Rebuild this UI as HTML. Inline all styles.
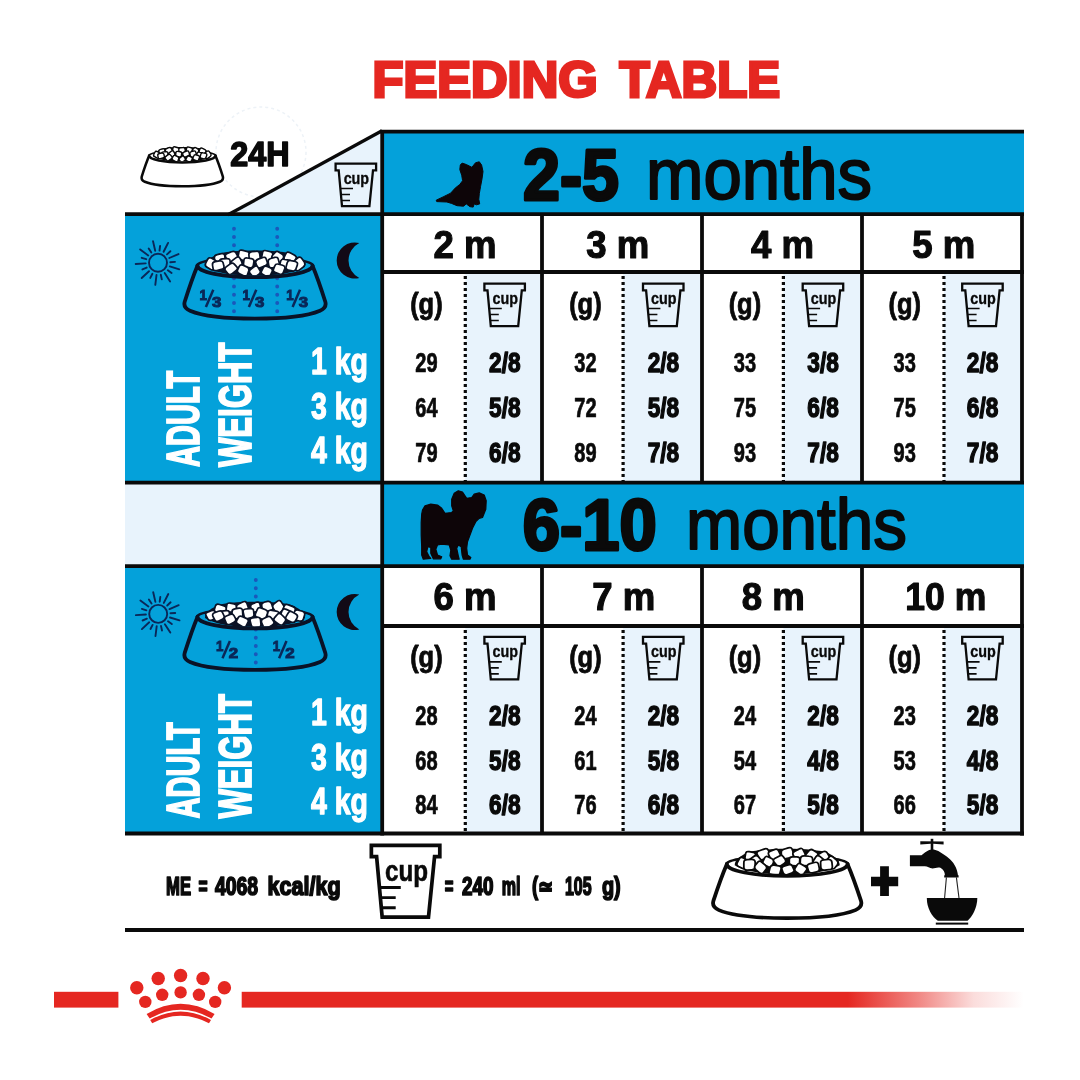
<!DOCTYPE html>
<html lang="en"><head><meta charset="utf-8"><title>Feeding table</title>
<style>
html,body{margin:0;padding:0;background:#fff;}
svg{display:block;font-family:'Liberation Sans', 'DejaVu Sans', sans-serif;}
</style></head><body>
<svg width="1080" height="1080" viewBox="0 0 1080 1080">
<rect x="382" y="131.7" width="642" height="83" fill="#04a1da"/>
<rect x="125" y="214" width="257" height="269" fill="#04a1da"/>
<rect x="125" y="483" width="257" height="84" fill="#e8f3fc"/>
<rect x="382" y="483" width="642" height="84" fill="#04a1da"/>
<rect x="125" y="566" width="257" height="267.5" fill="#04a1da"/>
<circle cx="261" cy="152" r="45" fill="none" stroke="#edf2f7" stroke-width="1.5" stroke-dasharray="3 3"/>
<polygon points="229,214 382,130.5 382,214" fill="#e8f3fc"/>
<rect x="465.3" y="272" width="76.69999999999999" height="211" fill="#e8f3fc"/>
<rect x="465.3" y="626" width="76.69999999999999" height="207" fill="#e8f3fc"/>
<rect x="623.1" y="272" width="78.89999999999998" height="211" fill="#e8f3fc"/>
<rect x="623.1" y="626" width="78.89999999999998" height="207" fill="#e8f3fc"/>
<rect x="783.4" y="272" width="78.60000000000002" height="211" fill="#e8f3fc"/>
<rect x="783.4" y="626" width="78.60000000000002" height="207" fill="#e8f3fc"/>
<rect x="944.0" y="272" width="78.0" height="211" fill="#e8f3fc"/>
<rect x="944.0" y="626" width="78.0" height="207" fill="#e8f3fc"/>
<line x1="380.3" y1="131.7" x2="1024" y2="131.7" stroke="#0a0a0a" stroke-width="3.8" />
<line x1="125" y1="214.2" x2="1024" y2="214.2" stroke="#0a0a0a" stroke-width="3.8" />
<line x1="382" y1="272" x2="1024" y2="272" stroke="#0a0a0a" stroke-width="3.8" />
<line x1="125" y1="482.7" x2="1024" y2="482.7" stroke="#0a0a0a" stroke-width="3.8" />
<line x1="125" y1="566.2" x2="1024" y2="566.2" stroke="#0a0a0a" stroke-width="3.8" />
<line x1="382" y1="626" x2="1024" y2="626" stroke="#0a0a0a" stroke-width="3.8" />
<line x1="125" y1="833.5" x2="1024" y2="833.5" stroke="#0a0a0a" stroke-width="3.8" />
<line x1="125" y1="930" x2="1024" y2="930" stroke="#0a0a0a" stroke-width="3.8" />
<line x1="228" y1="214.8" x2="382" y2="130.7" stroke="#0a0a0a" stroke-width="3.3" />
<line x1="382.2" y1="130" x2="382.2" y2="835.4" stroke="#0a0a0a" stroke-width="3.8" />
<line x1="1022" y1="214" x2="1022" y2="482.7" stroke="#0a0a0a" stroke-width="3.8" />
<line x1="1022" y1="566" x2="1022" y2="835.4" stroke="#0a0a0a" stroke-width="3.8" />
<line x1="542" y1="214" x2="542" y2="482.7" stroke="#0a0a0a" stroke-width="3.8" />
<line x1="542" y1="566" x2="542" y2="833.5" stroke="#0a0a0a" stroke-width="3.8" />
<line x1="702" y1="214" x2="702" y2="482.7" stroke="#0a0a0a" stroke-width="3.8" />
<line x1="702" y1="566" x2="702" y2="833.5" stroke="#0a0a0a" stroke-width="3.8" />
<line x1="862" y1="214" x2="862" y2="482.7" stroke="#0a0a0a" stroke-width="3.8" />
<line x1="862" y1="566" x2="862" y2="833.5" stroke="#0a0a0a" stroke-width="3.8" />
<line x1="465.3" y1="275.9" x2="465.3" y2="481" stroke="#0a0a0a" stroke-width="3.2" stroke-dasharray="3 3"/>
<line x1="465.3" y1="629.9" x2="465.3" y2="832" stroke="#0a0a0a" stroke-width="3.2" stroke-dasharray="3 3"/>
<line x1="623.1" y1="275.9" x2="623.1" y2="481" stroke="#0a0a0a" stroke-width="3.2" stroke-dasharray="3 3"/>
<line x1="623.1" y1="629.9" x2="623.1" y2="832" stroke="#0a0a0a" stroke-width="3.2" stroke-dasharray="3 3"/>
<line x1="783.4" y1="275.9" x2="783.4" y2="481" stroke="#0a0a0a" stroke-width="3.2" stroke-dasharray="3 3"/>
<line x1="783.4" y1="629.9" x2="783.4" y2="832" stroke="#0a0a0a" stroke-width="3.2" stroke-dasharray="3 3"/>
<line x1="944.0" y1="275.9" x2="944.0" y2="481" stroke="#0a0a0a" stroke-width="3.2" stroke-dasharray="3 3"/>
<line x1="944.0" y1="629.9" x2="944.0" y2="832" stroke="#0a0a0a" stroke-width="3.2" stroke-dasharray="3 3"/>
<text x="372.6" y="96.6" font-size="49.5" font-weight="bold" fill="#e52721" text-anchor="start" textLength="225" lengthAdjust="spacingAndGlyphs" stroke="#e52721" stroke-width="3.0" stroke-linejoin="miter" stroke-miterlimit="2.5">FEEDING</text>
<text x="619.6" y="96.6" font-size="49.5" font-weight="bold" fill="#e52721" text-anchor="start" textLength="160.5" lengthAdjust="spacingAndGlyphs" stroke="#e52721" stroke-width="3.0" stroke-linejoin="miter" stroke-miterlimit="2.5">TABLE</text>
<text x="523" y="199.5" font-size="72.5" font-weight="bold" fill="#0a0a0a" text-anchor="start" textLength="96" lengthAdjust="spacingAndGlyphs" stroke="#0a0a0a" stroke-width="3.2" stroke-linejoin="round" >2-5</text>
<text x="646" y="199.3" font-size="72" font-weight="normal" fill="#0a0a0a" text-anchor="start" textLength="226" lengthAdjust="spacingAndGlyphs" stroke="#0a0a0a" stroke-width="2.0" stroke-linejoin="round" >months</text>
<text x="522.8" y="549.5" font-size="72.5" font-weight="bold" fill="#0a0a0a" text-anchor="start" textLength="134" lengthAdjust="spacingAndGlyphs" stroke="#0a0a0a" stroke-width="3.2" stroke-linejoin="round" >6-10</text>
<text x="686" y="549.3" font-size="72" font-weight="normal" fill="#0a0a0a" text-anchor="start" textLength="221" lengthAdjust="spacingAndGlyphs" stroke="#0a0a0a" stroke-width="2.0" stroke-linejoin="round" >months</text>
<text x="465" y="258" font-size="39.5" font-weight="bold" fill="#0a0a0a" text-anchor="middle" textLength="63" lengthAdjust="spacingAndGlyphs" stroke="#0a0a0a" stroke-width="1.2" stroke-linejoin="round" >2 m</text>
<text x="464.9" y="610" font-size="39.5" font-weight="bold" fill="#0a0a0a" text-anchor="middle" textLength="63" lengthAdjust="spacingAndGlyphs" stroke="#0a0a0a" stroke-width="1.2" stroke-linejoin="round" >6 m</text>
<text x="617.7" y="258" font-size="39.5" font-weight="bold" fill="#0a0a0a" text-anchor="middle" textLength="63" lengthAdjust="spacingAndGlyphs" stroke="#0a0a0a" stroke-width="1.2" stroke-linejoin="round" >3 m</text>
<text x="623.7" y="610" font-size="39.5" font-weight="bold" fill="#0a0a0a" text-anchor="middle" textLength="63" lengthAdjust="spacingAndGlyphs" stroke="#0a0a0a" stroke-width="1.2" stroke-linejoin="round" >7 m</text>
<text x="782.5" y="258" font-size="39.5" font-weight="bold" fill="#0a0a0a" text-anchor="middle" textLength="63" lengthAdjust="spacingAndGlyphs" stroke="#0a0a0a" stroke-width="1.2" stroke-linejoin="round" >4 m</text>
<text x="773.3" y="610" font-size="39.5" font-weight="bold" fill="#0a0a0a" text-anchor="middle" textLength="63" lengthAdjust="spacingAndGlyphs" stroke="#0a0a0a" stroke-width="1.2" stroke-linejoin="round" >8 m</text>
<text x="943.8" y="258" font-size="39.5" font-weight="bold" fill="#0a0a0a" text-anchor="middle" textLength="63" lengthAdjust="spacingAndGlyphs" stroke="#0a0a0a" stroke-width="1.2" stroke-linejoin="round" >5 m</text>
<text x="945.8" y="610" font-size="39.5" font-weight="bold" fill="#0a0a0a" text-anchor="middle" textLength="81" lengthAdjust="spacingAndGlyphs" stroke="#0a0a0a" stroke-width="1.2" stroke-linejoin="round" >10 m</text>
<text x="426.4" y="372.2" font-size="27.3" font-weight="bold" fill="#0a0a0a" text-anchor="middle" textLength="22.3" lengthAdjust="spacingAndGlyphs" stroke="#0a0a0a" stroke-width="0.7" stroke-linejoin="round" >29</text>
<text x="504.8" y="372.2" font-size="27.6" font-weight="bold" fill="#0a0a0a" text-anchor="middle" textLength="31.5" lengthAdjust="spacingAndGlyphs" stroke="#0a0a0a" stroke-width="1.4" stroke-linejoin="round" >2/8</text>
<text x="585.4" y="372.2" font-size="27.3" font-weight="bold" fill="#0a0a0a" text-anchor="middle" textLength="22.3" lengthAdjust="spacingAndGlyphs" stroke="#0a0a0a" stroke-width="0.7" stroke-linejoin="round" >32</text>
<text x="663.4" y="372.2" font-size="27.6" font-weight="bold" fill="#0a0a0a" text-anchor="middle" textLength="31.5" lengthAdjust="spacingAndGlyphs" stroke="#0a0a0a" stroke-width="1.4" stroke-linejoin="round" >2/8</text>
<text x="744.9" y="372.2" font-size="27.3" font-weight="bold" fill="#0a0a0a" text-anchor="middle" textLength="22.3" lengthAdjust="spacingAndGlyphs" stroke="#0a0a0a" stroke-width="0.7" stroke-linejoin="round" >33</text>
<text x="823.1" y="372.2" font-size="27.6" font-weight="bold" fill="#0a0a0a" text-anchor="middle" textLength="31.5" lengthAdjust="spacingAndGlyphs" stroke="#0a0a0a" stroke-width="1.4" stroke-linejoin="round" >3/8</text>
<text x="904.7" y="372.2" font-size="27.3" font-weight="bold" fill="#0a0a0a" text-anchor="middle" textLength="22.3" lengthAdjust="spacingAndGlyphs" stroke="#0a0a0a" stroke-width="0.7" stroke-linejoin="round" >33</text>
<text x="982.6" y="372.2" font-size="27.6" font-weight="bold" fill="#0a0a0a" text-anchor="middle" textLength="31.5" lengthAdjust="spacingAndGlyphs" stroke="#0a0a0a" stroke-width="1.4" stroke-linejoin="round" >2/8</text>
<text x="426.4" y="416.9" font-size="27.3" font-weight="bold" fill="#0a0a0a" text-anchor="middle" textLength="22.3" lengthAdjust="spacingAndGlyphs" stroke="#0a0a0a" stroke-width="0.7" stroke-linejoin="round" >64</text>
<text x="504.8" y="416.9" font-size="27.6" font-weight="bold" fill="#0a0a0a" text-anchor="middle" textLength="31.5" lengthAdjust="spacingAndGlyphs" stroke="#0a0a0a" stroke-width="1.4" stroke-linejoin="round" >5/8</text>
<text x="585.4" y="416.9" font-size="27.3" font-weight="bold" fill="#0a0a0a" text-anchor="middle" textLength="22.3" lengthAdjust="spacingAndGlyphs" stroke="#0a0a0a" stroke-width="0.7" stroke-linejoin="round" >72</text>
<text x="663.4" y="416.9" font-size="27.6" font-weight="bold" fill="#0a0a0a" text-anchor="middle" textLength="31.5" lengthAdjust="spacingAndGlyphs" stroke="#0a0a0a" stroke-width="1.4" stroke-linejoin="round" >5/8</text>
<text x="744.9" y="416.9" font-size="27.3" font-weight="bold" fill="#0a0a0a" text-anchor="middle" textLength="22.3" lengthAdjust="spacingAndGlyphs" stroke="#0a0a0a" stroke-width="0.7" stroke-linejoin="round" >75</text>
<text x="823.1" y="416.9" font-size="27.6" font-weight="bold" fill="#0a0a0a" text-anchor="middle" textLength="31.5" lengthAdjust="spacingAndGlyphs" stroke="#0a0a0a" stroke-width="1.4" stroke-linejoin="round" >6/8</text>
<text x="904.7" y="416.9" font-size="27.3" font-weight="bold" fill="#0a0a0a" text-anchor="middle" textLength="22.3" lengthAdjust="spacingAndGlyphs" stroke="#0a0a0a" stroke-width="0.7" stroke-linejoin="round" >75</text>
<text x="982.6" y="416.9" font-size="27.6" font-weight="bold" fill="#0a0a0a" text-anchor="middle" textLength="31.5" lengthAdjust="spacingAndGlyphs" stroke="#0a0a0a" stroke-width="1.4" stroke-linejoin="round" >6/8</text>
<text x="426.4" y="461.6" font-size="27.3" font-weight="bold" fill="#0a0a0a" text-anchor="middle" textLength="22.3" lengthAdjust="spacingAndGlyphs" stroke="#0a0a0a" stroke-width="0.7" stroke-linejoin="round" >79</text>
<text x="504.8" y="461.6" font-size="27.6" font-weight="bold" fill="#0a0a0a" text-anchor="middle" textLength="31.5" lengthAdjust="spacingAndGlyphs" stroke="#0a0a0a" stroke-width="1.4" stroke-linejoin="round" >6/8</text>
<text x="585.4" y="461.6" font-size="27.3" font-weight="bold" fill="#0a0a0a" text-anchor="middle" textLength="22.3" lengthAdjust="spacingAndGlyphs" stroke="#0a0a0a" stroke-width="0.7" stroke-linejoin="round" >89</text>
<text x="663.4" y="461.6" font-size="27.6" font-weight="bold" fill="#0a0a0a" text-anchor="middle" textLength="31.5" lengthAdjust="spacingAndGlyphs" stroke="#0a0a0a" stroke-width="1.4" stroke-linejoin="round" >7/8</text>
<text x="744.9" y="461.6" font-size="27.3" font-weight="bold" fill="#0a0a0a" text-anchor="middle" textLength="22.3" lengthAdjust="spacingAndGlyphs" stroke="#0a0a0a" stroke-width="0.7" stroke-linejoin="round" >93</text>
<text x="823.1" y="461.6" font-size="27.6" font-weight="bold" fill="#0a0a0a" text-anchor="middle" textLength="31.5" lengthAdjust="spacingAndGlyphs" stroke="#0a0a0a" stroke-width="1.4" stroke-linejoin="round" >7/8</text>
<text x="904.7" y="461.6" font-size="27.3" font-weight="bold" fill="#0a0a0a" text-anchor="middle" textLength="22.3" lengthAdjust="spacingAndGlyphs" stroke="#0a0a0a" stroke-width="0.7" stroke-linejoin="round" >93</text>
<text x="982.6" y="461.6" font-size="27.6" font-weight="bold" fill="#0a0a0a" text-anchor="middle" textLength="31.5" lengthAdjust="spacingAndGlyphs" stroke="#0a0a0a" stroke-width="1.4" stroke-linejoin="round" >7/8</text>
<text x="426.4" y="724.8" font-size="27.3" font-weight="bold" fill="#0a0a0a" text-anchor="middle" textLength="22.3" lengthAdjust="spacingAndGlyphs" stroke="#0a0a0a" stroke-width="0.7" stroke-linejoin="round" >28</text>
<text x="504.8" y="724.8" font-size="27.6" font-weight="bold" fill="#0a0a0a" text-anchor="middle" textLength="31.5" lengthAdjust="spacingAndGlyphs" stroke="#0a0a0a" stroke-width="1.4" stroke-linejoin="round" >2/8</text>
<text x="585.4" y="724.8" font-size="27.3" font-weight="bold" fill="#0a0a0a" text-anchor="middle" textLength="22.3" lengthAdjust="spacingAndGlyphs" stroke="#0a0a0a" stroke-width="0.7" stroke-linejoin="round" >24</text>
<text x="663.4" y="724.8" font-size="27.6" font-weight="bold" fill="#0a0a0a" text-anchor="middle" textLength="31.5" lengthAdjust="spacingAndGlyphs" stroke="#0a0a0a" stroke-width="1.4" stroke-linejoin="round" >2/8</text>
<text x="744.9" y="724.8" font-size="27.3" font-weight="bold" fill="#0a0a0a" text-anchor="middle" textLength="22.3" lengthAdjust="spacingAndGlyphs" stroke="#0a0a0a" stroke-width="0.7" stroke-linejoin="round" >24</text>
<text x="823.1" y="724.8" font-size="27.6" font-weight="bold" fill="#0a0a0a" text-anchor="middle" textLength="31.5" lengthAdjust="spacingAndGlyphs" stroke="#0a0a0a" stroke-width="1.4" stroke-linejoin="round" >2/8</text>
<text x="904.7" y="724.8" font-size="27.3" font-weight="bold" fill="#0a0a0a" text-anchor="middle" textLength="22.3" lengthAdjust="spacingAndGlyphs" stroke="#0a0a0a" stroke-width="0.7" stroke-linejoin="round" >23</text>
<text x="982.6" y="724.8" font-size="27.6" font-weight="bold" fill="#0a0a0a" text-anchor="middle" textLength="31.5" lengthAdjust="spacingAndGlyphs" stroke="#0a0a0a" stroke-width="1.4" stroke-linejoin="round" >2/8</text>
<text x="426.4" y="769.5" font-size="27.3" font-weight="bold" fill="#0a0a0a" text-anchor="middle" textLength="22.3" lengthAdjust="spacingAndGlyphs" stroke="#0a0a0a" stroke-width="0.7" stroke-linejoin="round" >68</text>
<text x="504.8" y="769.5" font-size="27.6" font-weight="bold" fill="#0a0a0a" text-anchor="middle" textLength="31.5" lengthAdjust="spacingAndGlyphs" stroke="#0a0a0a" stroke-width="1.4" stroke-linejoin="round" >5/8</text>
<text x="585.4" y="769.5" font-size="27.3" font-weight="bold" fill="#0a0a0a" text-anchor="middle" textLength="22.3" lengthAdjust="spacingAndGlyphs" stroke="#0a0a0a" stroke-width="0.7" stroke-linejoin="round" >61</text>
<text x="663.4" y="769.5" font-size="27.6" font-weight="bold" fill="#0a0a0a" text-anchor="middle" textLength="31.5" lengthAdjust="spacingAndGlyphs" stroke="#0a0a0a" stroke-width="1.4" stroke-linejoin="round" >5/8</text>
<text x="744.9" y="769.5" font-size="27.3" font-weight="bold" fill="#0a0a0a" text-anchor="middle" textLength="22.3" lengthAdjust="spacingAndGlyphs" stroke="#0a0a0a" stroke-width="0.7" stroke-linejoin="round" >54</text>
<text x="823.1" y="769.5" font-size="27.6" font-weight="bold" fill="#0a0a0a" text-anchor="middle" textLength="31.5" lengthAdjust="spacingAndGlyphs" stroke="#0a0a0a" stroke-width="1.4" stroke-linejoin="round" >4/8</text>
<text x="904.7" y="769.5" font-size="27.3" font-weight="bold" fill="#0a0a0a" text-anchor="middle" textLength="22.3" lengthAdjust="spacingAndGlyphs" stroke="#0a0a0a" stroke-width="0.7" stroke-linejoin="round" >53</text>
<text x="982.6" y="769.5" font-size="27.6" font-weight="bold" fill="#0a0a0a" text-anchor="middle" textLength="31.5" lengthAdjust="spacingAndGlyphs" stroke="#0a0a0a" stroke-width="1.4" stroke-linejoin="round" >4/8</text>
<text x="426.4" y="814.2" font-size="27.3" font-weight="bold" fill="#0a0a0a" text-anchor="middle" textLength="22.3" lengthAdjust="spacingAndGlyphs" stroke="#0a0a0a" stroke-width="0.7" stroke-linejoin="round" >84</text>
<text x="504.8" y="814.2" font-size="27.6" font-weight="bold" fill="#0a0a0a" text-anchor="middle" textLength="31.5" lengthAdjust="spacingAndGlyphs" stroke="#0a0a0a" stroke-width="1.4" stroke-linejoin="round" >6/8</text>
<text x="585.4" y="814.2" font-size="27.3" font-weight="bold" fill="#0a0a0a" text-anchor="middle" textLength="22.3" lengthAdjust="spacingAndGlyphs" stroke="#0a0a0a" stroke-width="0.7" stroke-linejoin="round" >76</text>
<text x="663.4" y="814.2" font-size="27.6" font-weight="bold" fill="#0a0a0a" text-anchor="middle" textLength="31.5" lengthAdjust="spacingAndGlyphs" stroke="#0a0a0a" stroke-width="1.4" stroke-linejoin="round" >6/8</text>
<text x="744.9" y="814.2" font-size="27.3" font-weight="bold" fill="#0a0a0a" text-anchor="middle" textLength="22.3" lengthAdjust="spacingAndGlyphs" stroke="#0a0a0a" stroke-width="0.7" stroke-linejoin="round" >67</text>
<text x="823.1" y="814.2" font-size="27.6" font-weight="bold" fill="#0a0a0a" text-anchor="middle" textLength="31.5" lengthAdjust="spacingAndGlyphs" stroke="#0a0a0a" stroke-width="1.4" stroke-linejoin="round" >5/8</text>
<text x="904.7" y="814.2" font-size="27.3" font-weight="bold" fill="#0a0a0a" text-anchor="middle" textLength="22.3" lengthAdjust="spacingAndGlyphs" stroke="#0a0a0a" stroke-width="0.7" stroke-linejoin="round" >66</text>
<text x="982.6" y="814.2" font-size="27.6" font-weight="bold" fill="#0a0a0a" text-anchor="middle" textLength="31.5" lengthAdjust="spacingAndGlyphs" stroke="#0a0a0a" stroke-width="1.4" stroke-linejoin="round" >5/8</text>
<text x="426.4" y="314.2" font-size="29" font-weight="bold" fill="#0a0a0a" text-anchor="middle" textLength="32.5" lengthAdjust="spacingAndGlyphs" stroke="#0a0a0a" stroke-width="0.8" stroke-linejoin="round" >(g)</text>
<text x="585.4" y="314.2" font-size="29" font-weight="bold" fill="#0a0a0a" text-anchor="middle" textLength="32.5" lengthAdjust="spacingAndGlyphs" stroke="#0a0a0a" stroke-width="0.8" stroke-linejoin="round" >(g)</text>
<text x="744.9" y="314.2" font-size="29" font-weight="bold" fill="#0a0a0a" text-anchor="middle" textLength="32.5" lengthAdjust="spacingAndGlyphs" stroke="#0a0a0a" stroke-width="0.8" stroke-linejoin="round" >(g)</text>
<text x="904.7" y="314.2" font-size="29" font-weight="bold" fill="#0a0a0a" text-anchor="middle" textLength="32.5" lengthAdjust="spacingAndGlyphs" stroke="#0a0a0a" stroke-width="0.8" stroke-linejoin="round" >(g)</text>
<text x="426.4" y="667.3" font-size="29" font-weight="bold" fill="#0a0a0a" text-anchor="middle" textLength="32.5" lengthAdjust="spacingAndGlyphs" stroke="#0a0a0a" stroke-width="0.8" stroke-linejoin="round" >(g)</text>
<text x="585.4" y="667.3" font-size="29" font-weight="bold" fill="#0a0a0a" text-anchor="middle" textLength="32.5" lengthAdjust="spacingAndGlyphs" stroke="#0a0a0a" stroke-width="0.8" stroke-linejoin="round" >(g)</text>
<text x="744.9" y="667.3" font-size="29" font-weight="bold" fill="#0a0a0a" text-anchor="middle" textLength="32.5" lengthAdjust="spacingAndGlyphs" stroke="#0a0a0a" stroke-width="0.8" stroke-linejoin="round" >(g)</text>
<text x="904.7" y="667.3" font-size="29" font-weight="bold" fill="#0a0a0a" text-anchor="middle" textLength="32.5" lengthAdjust="spacingAndGlyphs" stroke="#0a0a0a" stroke-width="0.8" stroke-linejoin="round" >(g)</text>
<text x="368" y="374.0" font-size="37" font-weight="bold" fill="#fff" text-anchor="end" textLength="57" lengthAdjust="spacingAndGlyphs" stroke="#fff" stroke-width="1.3" stroke-linejoin="round" >1 kg</text>
<text x="368" y="418.5" font-size="37" font-weight="bold" fill="#fff" text-anchor="end" textLength="57" lengthAdjust="spacingAndGlyphs" stroke="#fff" stroke-width="1.3" stroke-linejoin="round" >3 kg</text>
<text x="368" y="463.0" font-size="37" font-weight="bold" fill="#fff" text-anchor="end" textLength="57" lengthAdjust="spacingAndGlyphs" stroke="#fff" stroke-width="1.3" stroke-linejoin="round" >4 kg</text>
<text x="368" y="724.5" font-size="37" font-weight="bold" fill="#fff" text-anchor="end" textLength="57" lengthAdjust="spacingAndGlyphs" stroke="#fff" stroke-width="1.3" stroke-linejoin="round" >1 kg</text>
<text x="368" y="769.5" font-size="37" font-weight="bold" fill="#fff" text-anchor="end" textLength="57" lengthAdjust="spacingAndGlyphs" stroke="#fff" stroke-width="1.3" stroke-linejoin="round" >3 kg</text>
<text x="368" y="814.0" font-size="37" font-weight="bold" fill="#fff" text-anchor="end" textLength="57" lengthAdjust="spacingAndGlyphs" stroke="#fff" stroke-width="1.3" stroke-linejoin="round" >4 kg</text>
<text transform="translate(198.6,467.1) rotate(-90)" font-size="45.5" font-weight="bold" fill="#fff" stroke="#fff" stroke-width="1.8" textLength="96.5" lengthAdjust="spacingAndGlyphs">ADULT</text>
<text transform="translate(250.5,467.1) rotate(-90)" font-size="45.5" font-weight="bold" fill="#fff" stroke="#fff" stroke-width="1.8" textLength="124.5" lengthAdjust="spacingAndGlyphs">WEIGHT</text>
<text transform="translate(198.6,818.6) rotate(-90)" font-size="45.5" font-weight="bold" fill="#fff" stroke="#fff" stroke-width="1.8" textLength="96.5" lengthAdjust="spacingAndGlyphs">ADULT</text>
<text transform="translate(250.5,818.6) rotate(-90)" font-size="45.5" font-weight="bold" fill="#fff" stroke="#fff" stroke-width="1.8" textLength="124.5" lengthAdjust="spacingAndGlyphs">WEIGHT</text>
<g transform="translate(182.3,155.8) scale(0.577,0.577)"><clipPath id="bk1"><path d="M-70,-40 H70 V0 H56 A56,9.8 0 0 1 -56,0 H-70Z"/></clipPath><path d="M-57.5,0 Q-63,13 -70.3,36 Q-72,42 -65,45 C-40,55.5 40,55.5 65,45 Q72,42 70.3,36 Q63,13 57.5,0Z" fill="#fff" stroke="#0a0a0a" stroke-width="4.4" stroke-linejoin="round"/><path d="M-57.5,0 A57.5,7.5 0 0 1 57.5,0" fill="none" stroke="#0a0a0a" stroke-width="4.4"/><ellipse cx="0" cy="0" rx="56" ry="7" fill="#fff" stroke="none"/><g clip-path="url(#bk1)"><path d="M-50,1 C-50,-4 -46,-7 -39,-11 C-26,-16.5 26,-16.5 39,-11 C46,-7 50,-4 50,1 C30,13.5 -30,13.5 -50,1Z" fill="#0a0a0a"/><path d="M-40.6,-7.7 Q-40.9,-10.5 -37.8,-11.1 L-33.6,-12.0 Q-30.5,-12.7 -30.2,-9.7 L-29.8,-5.8 Q-29.5,-2.8 -32.6,-2.3 L-36.7,-1.6 Q-39.8,-1.1 -40.1,-3.9 Z" fill="#fff" stroke="#0a0a0a" stroke-width="2.4" stroke-linejoin="round"/><path d="M-29.2,-8.4 Q-30.7,-10.9 -27.6,-12.2 L-23.5,-14.0 Q-20.4,-15.3 -19.1,-12.8 L-17.3,-9.5 Q-15.9,-7.0 -18.9,-5.6 L-22.9,-3.8 Q-25.9,-2.5 -27.3,-5.0 Z" fill="#fff" stroke="#0a0a0a" stroke-width="2.4" stroke-linejoin="round"/><path d="M-16.1,-13.7 Q-15.6,-16.4 -12.1,-15.3 L-7.4,-13.9 Q-3.9,-12.8 -4.7,-9.9 L-5.9,-6.0 Q-6.8,-3.1 -9.9,-4.4 L-14.1,-6.1 Q-17.2,-7.3 -16.7,-10.1 Z" fill="#fff" stroke="#0a0a0a" stroke-width="2.4" stroke-linejoin="round"/><path d="M-6.1,-10.8 Q-6.3,-13.6 -3.1,-14.0 L1.2,-14.4 Q4.3,-14.8 4.7,-11.9 L5.2,-8.0 Q5.5,-5.1 2.2,-4.8 L-2.3,-4.4 Q-5.6,-4.1 -5.8,-6.9 Z" fill="#fff" stroke="#0a0a0a" stroke-width="2.4" stroke-linejoin="round"/><path d="M7.5,-12.9 Q8.0,-15.9 11.2,-15.0 L15.4,-13.9 Q18.5,-13.1 17.6,-10.0 L16.4,-6.0 Q15.5,-2.9 12.7,-3.8 L8.9,-5.0 Q6.1,-5.9 6.7,-8.9 Z" fill="#fff" stroke="#0a0a0a" stroke-width="2.4" stroke-linejoin="round"/><path d="M19.9,-13.1 Q21.7,-15.2 24.1,-13.5 L27.3,-11.3 Q29.6,-9.6 28.0,-7.2 L25.8,-4.1 Q24.1,-1.7 21.6,-3.7 L18.3,-6.4 Q15.9,-8.4 17.6,-10.5 Z" fill="#fff" stroke="#0a0a0a" stroke-width="2.4" stroke-linejoin="round"/><path d="M30.9,-12.1 Q32.1,-14.6 35.1,-13.0 L39.2,-10.8 Q42.2,-9.1 40.8,-6.7 L38.9,-3.6 Q37.5,-1.2 34.7,-2.7 L30.9,-4.7 Q28.1,-6.1 29.3,-8.7 Z" fill="#fff" stroke="#0a0a0a" stroke-width="2.4" stroke-linejoin="round"/><path d="M-47.5,-6.2 Q-46.1,-8.9 -43.3,-7.4 L-39.5,-5.3 Q-36.6,-3.7 -38.0,-1.1 L-40.0,2.5 Q-41.4,5.2 -44.2,3.7 L-47.9,1.6 Q-50.7,0.0 -49.3,-2.6 Z" fill="#fff" stroke="#0a0a0a" stroke-width="2.4" stroke-linejoin="round"/><path d="M-35.5,-4.0 Q-35.7,-6.7 -32.5,-6.9 L-28.2,-7.1 Q-25.0,-7.3 -24.9,-4.5 L-24.8,-0.9 Q-24.8,1.8 -27.9,2.0 L-32.1,2.2 Q-35.2,2.4 -35.4,-0.3 Z" fill="#fff" stroke="#0a0a0a" stroke-width="2.4" stroke-linejoin="round"/><path d="M-23.8,-0.5 Q-25.5,-2.9 -22.8,-5.0 L-19.2,-7.8 Q-16.5,-9.9 -15.1,-7.5 L-13.3,-4.2 Q-11.9,-1.8 -14.3,0.2 L-17.5,3.0 Q-19.9,5.0 -21.5,2.6 Z" fill="#fff" stroke="#0a0a0a" stroke-width="2.4" stroke-linejoin="round"/><path d="M-11.1,-5.4 Q-10.9,-8.1 -7.8,-7.7 L-3.8,-7.1 Q-0.7,-6.7 -1.1,-3.9 L-1.7,-0.2 Q-2.2,2.5 -5.0,2.1 L-8.8,1.5 Q-11.7,1.1 -11.5,-1.7 Z" fill="#fff" stroke="#0a0a0a" stroke-width="2.4" stroke-linejoin="round"/><path d="M0.8,-2.8 Q0.1,-5.4 3.2,-6.6 L7.3,-8.1 Q10.4,-9.2 11.2,-6.8 L12.3,-3.6 Q13.1,-1.2 10.0,0.1 L5.8,1.9 Q2.6,3.2 1.9,0.6 Z" fill="#fff" stroke="#0a0a0a" stroke-width="2.4" stroke-linejoin="round"/><path d="M13.2,-3.7 Q12.7,-6.4 15.7,-7.2 L19.7,-8.3 Q22.7,-9.1 23.4,-6.1 L24.4,-2.1 Q25.1,0.9 21.9,1.5 L17.5,2.2 Q14.3,2.7 13.8,-0.1 Z" fill="#fff" stroke="#0a0a0a" stroke-width="2.4" stroke-linejoin="round"/><path d="M25.6,-4.4 Q26.3,-7.0 29.5,-6.3 L33.8,-5.5 Q37.1,-4.8 36.4,-2.2 L35.4,1.2 Q34.7,3.8 31.5,3.1 L27.3,2.3 Q24.1,1.6 24.8,-1.0 Z" fill="#fff" stroke="#0a0a0a" stroke-width="2.4" stroke-linejoin="round"/><path d="M37.6,0.9 Q35.7,-1.4 38.5,-4.0 L42.2,-7.4 Q45.0,-9.9 46.8,-7.3 L49.3,-3.7 Q51.1,-1.0 48.4,1.1 L44.9,4.0 Q42.2,6.2 40.3,3.9 Z" fill="#fff" stroke="#0a0a0a" stroke-width="2.4" stroke-linejoin="round"/><path d="M-42.5,-0.6 Q-43.0,-3.3 -39.8,-4.0 L-35.6,-4.8 Q-32.5,-5.4 -31.9,-2.9 L-31.1,0.4 Q-30.4,2.9 -33.7,3.7 L-38.1,4.8 Q-41.4,5.6 -41.9,2.9 Z" fill="#fff" stroke="#0a0a0a" stroke-width="2.4" stroke-linejoin="round"/><path d="M-29.4,5.1 Q-31.1,3.0 -28.5,1.0 L-25.1,-1.6 Q-22.5,-3.6 -20.7,-1.6 L-18.2,1.1 Q-16.4,3.1 -19.1,5.1 L-22.8,7.9 Q-25.5,9.9 -27.2,7.8 Z" fill="#fff" stroke="#0a0a0a" stroke-width="2.4" stroke-linejoin="round"/><path d="M-15.9,0.9 Q-14.7,-1.5 -12.0,-0.4 L-8.2,1.2 Q-5.5,2.4 -6.3,5.2 L-7.5,8.9 Q-8.3,11.7 -11.4,10.1 L-15.4,8.1 Q-18.5,6.5 -17.4,4.1 Z" fill="#fff" stroke="#0a0a0a" stroke-width="2.4" stroke-linejoin="round"/><path d="M-5.0,7.5 Q-6.6,5.5 -4.2,3.6 L-1.0,1.1 Q1.5,-0.9 2.9,1.4 L4.8,4.5 Q6.3,6.7 4.0,8.4 L1.1,10.6 Q-1.1,12.2 -2.8,10.2 Z" fill="#fff" stroke="#0a0a0a" stroke-width="2.4" stroke-linejoin="round"/><path d="M8.3,1.9 Q9.6,-0.5 12.2,0.7 L15.6,2.4 Q18.2,3.7 17.0,6.2 L15.3,9.6 Q14.0,12.2 11.4,10.7 L8.0,8.9 Q5.4,7.5 6.7,5.1 Z" fill="#fff" stroke="#0a0a0a" stroke-width="2.4" stroke-linejoin="round"/><path d="M19.8,0.2 Q20.7,-2.3 23.7,-1.5 L27.6,-0.5 Q30.6,0.3 29.7,3.0 L28.4,6.6 Q27.5,9.3 24.5,8.3 L20.6,6.9 Q17.6,5.8 18.5,3.4 Z" fill="#fff" stroke="#0a0a0a" stroke-width="2.4" stroke-linejoin="round"/><path d="M32.2,-3.0 Q33.1,-5.9 36.1,-5.1 L40.2,-4.2 Q43.3,-3.4 42.3,-0.6 L41.0,3.1 Q40.0,5.9 37.1,5.2 L33.2,4.3 Q30.3,3.6 31.2,0.8 Z" fill="#fff" stroke="#0a0a0a" stroke-width="2.4" stroke-linejoin="round"/></g><path d="M-57.5,0 A57.5,11.5 0 0 0 57.5,0" fill="none" stroke="#0a0a0a" stroke-width="4.4" stroke-linecap="round"/></g>
<text x="230.3" y="166.1" font-size="34.4" font-weight="bold" fill="#0a0a0a" text-anchor="start" textLength="59.3" lengthAdjust="spacingAndGlyphs" stroke="#0a0a0a" stroke-width="1.6" stroke-linejoin="round" >24H</text>
<g transform="translate(334.5,162.5) scale(1.0)" fill="none" stroke="#0a0a0a" stroke-width="2.3" stroke-linejoin="miter"><path d="M1.1,1.1 H41.6 V7.8 H38.5 L34.9,43.6 H7.5 L4.2,7.8 H1.1 Z"/><path d="M6.5,26 H18.5 M7,32 H15.5 M7.5,38 H15.5" stroke-width="1.7"/><text x="21.9" y="21.2" font-size="17" font-weight="bold" fill="#0a0a0a" stroke="#0a0a0a" stroke-width="0.35" text-anchor="middle" textLength="25.5" lengthAdjust="spacingAndGlyphs">cup</text></g>
<g transform="translate(483.3,282.5) scale(1.0)" fill="none" stroke="#0a0a0a" stroke-width="2.3" stroke-linejoin="miter"><path d="M1.1,1.1 H41.6 V7.8 H38.5 L34.9,43.6 H7.5 L4.2,7.8 H1.1 Z"/><path d="M6.5,26 H18.5 M7,32 H15.5 M7.5,38 H15.5" stroke-width="1.7"/><text x="21.9" y="21.2" font-size="17" font-weight="bold" fill="#0a0a0a" stroke="#0a0a0a" stroke-width="0.35" text-anchor="middle" textLength="25.5" lengthAdjust="spacingAndGlyphs">cup</text></g>
<g transform="translate(483.3,635.8) scale(1.0)" fill="none" stroke="#0a0a0a" stroke-width="2.3" stroke-linejoin="miter"><path d="M1.1,1.1 H41.6 V7.8 H38.5 L34.9,43.6 H7.5 L4.2,7.8 H1.1 Z"/><path d="M6.5,26 H18.5 M7,32 H15.5 M7.5,38 H15.5" stroke-width="1.7"/><text x="21.9" y="21.2" font-size="17" font-weight="bold" fill="#0a0a0a" stroke="#0a0a0a" stroke-width="0.35" text-anchor="middle" textLength="25.5" lengthAdjust="spacingAndGlyphs">cup</text></g>
<g transform="translate(641.9,282.5) scale(1.0)" fill="none" stroke="#0a0a0a" stroke-width="2.3" stroke-linejoin="miter"><path d="M1.1,1.1 H41.6 V7.8 H38.5 L34.9,43.6 H7.5 L4.2,7.8 H1.1 Z"/><path d="M6.5,26 H18.5 M7,32 H15.5 M7.5,38 H15.5" stroke-width="1.7"/><text x="21.9" y="21.2" font-size="17" font-weight="bold" fill="#0a0a0a" stroke="#0a0a0a" stroke-width="0.35" text-anchor="middle" textLength="25.5" lengthAdjust="spacingAndGlyphs">cup</text></g>
<g transform="translate(641.9,635.8) scale(1.0)" fill="none" stroke="#0a0a0a" stroke-width="2.3" stroke-linejoin="miter"><path d="M1.1,1.1 H41.6 V7.8 H38.5 L34.9,43.6 H7.5 L4.2,7.8 H1.1 Z"/><path d="M6.5,26 H18.5 M7,32 H15.5 M7.5,38 H15.5" stroke-width="1.7"/><text x="21.9" y="21.2" font-size="17" font-weight="bold" fill="#0a0a0a" stroke="#0a0a0a" stroke-width="0.35" text-anchor="middle" textLength="25.5" lengthAdjust="spacingAndGlyphs">cup</text></g>
<g transform="translate(801.6,282.5) scale(1.0)" fill="none" stroke="#0a0a0a" stroke-width="2.3" stroke-linejoin="miter"><path d="M1.1,1.1 H41.6 V7.8 H38.5 L34.9,43.6 H7.5 L4.2,7.8 H1.1 Z"/><path d="M6.5,26 H18.5 M7,32 H15.5 M7.5,38 H15.5" stroke-width="1.7"/><text x="21.9" y="21.2" font-size="17" font-weight="bold" fill="#0a0a0a" stroke="#0a0a0a" stroke-width="0.35" text-anchor="middle" textLength="25.5" lengthAdjust="spacingAndGlyphs">cup</text></g>
<g transform="translate(801.6,635.8) scale(1.0)" fill="none" stroke="#0a0a0a" stroke-width="2.3" stroke-linejoin="miter"><path d="M1.1,1.1 H41.6 V7.8 H38.5 L34.9,43.6 H7.5 L4.2,7.8 H1.1 Z"/><path d="M6.5,26 H18.5 M7,32 H15.5 M7.5,38 H15.5" stroke-width="1.7"/><text x="21.9" y="21.2" font-size="17" font-weight="bold" fill="#0a0a0a" stroke="#0a0a0a" stroke-width="0.35" text-anchor="middle" textLength="25.5" lengthAdjust="spacingAndGlyphs">cup</text></g>
<g transform="translate(961.1,282.5) scale(1.0)" fill="none" stroke="#0a0a0a" stroke-width="2.3" stroke-linejoin="miter"><path d="M1.1,1.1 H41.6 V7.8 H38.5 L34.9,43.6 H7.5 L4.2,7.8 H1.1 Z"/><path d="M6.5,26 H18.5 M7,32 H15.5 M7.5,38 H15.5" stroke-width="1.7"/><text x="21.9" y="21.2" font-size="17" font-weight="bold" fill="#0a0a0a" stroke="#0a0a0a" stroke-width="0.35" text-anchor="middle" textLength="25.5" lengthAdjust="spacingAndGlyphs">cup</text></g>
<g transform="translate(961.1,635.8) scale(1.0)" fill="none" stroke="#0a0a0a" stroke-width="2.3" stroke-linejoin="miter"><path d="M1.1,1.1 H41.6 V7.8 H38.5 L34.9,43.6 H7.5 L4.2,7.8 H1.1 Z"/><path d="M6.5,26 H18.5 M7,32 H15.5 M7.5,38 H15.5" stroke-width="1.7"/><text x="21.9" y="21.2" font-size="17" font-weight="bold" fill="#0a0a0a" stroke="#0a0a0a" stroke-width="0.35" text-anchor="middle" textLength="25.5" lengthAdjust="spacingAndGlyphs">cup</text></g>
<g transform="translate(369.5,843.5) scale(1.69)" fill="none" stroke="#0a0a0a" stroke-width="2.2" stroke-linejoin="miter"><path d="M1.1,1.1 H41.6 V7.8 H38.5 L34.9,43.6 H7.5 L4.2,7.8 H1.1 Z"/><path d="M6.5,26 H18.5 M7,32 H15.5 M7.5,38 H15.5" stroke-width="1.7"/><text x="21.9" y="22.4" font-size="17" font-weight="bold" fill="#0a0a0a" stroke="#0a0a0a" stroke-width="0.35" text-anchor="middle" textLength="25.5" lengthAdjust="spacingAndGlyphs">cup</text></g>
<g stroke="#0a2758" stroke-width="1.9" fill="none" stroke-linecap="round"><circle cx="158" cy="262.8" r="9"/><line x1="155.2" y1="250.8" x2="153.0" y2="241.1"/><line x1="159.5" y1="250.6" x2="160.1" y2="245.9"/><line x1="163.6" y1="251.8" x2="168.1" y2="242.9"/><line x1="167.0" y1="254.4" x2="170.4" y2="251.2"/><line x1="169.3" y1="258.0" x2="178.5" y2="254.1"/><line x1="170.3" y1="262.2" x2="175.0" y2="261.9"/><line x1="169.8" y1="266.4" x2="179.3" y2="269.3"/><line x1="167.8" y1="270.2" x2="171.6" y2="273.0"/><line x1="164.7" y1="273.1" x2="170.1" y2="281.5"/><line x1="160.8" y1="274.8" x2="161.8" y2="279.4"/><line x1="156.5" y1="275.0" x2="155.3" y2="284.9"/><line x1="152.4" y1="273.8" x2="150.3" y2="277.9"/><line x1="149.0" y1="271.2" x2="141.7" y2="278.0"/><line x1="146.7" y1="267.6" x2="142.4" y2="269.4"/><line x1="145.7" y1="263.4" x2="135.7" y2="264.0"/><line x1="146.2" y1="259.2" x2="141.7" y2="257.8"/><line x1="148.2" y1="255.4" x2="140.2" y2="249.4"/><line x1="151.3" y1="252.5" x2="148.7" y2="248.5"/></g>
<path transform="translate(0,0)" d="M359.3,243.1 A18.04,18.04 0 1 0 359.3,278 A19.5,19.5 0 0 1 359.3,243.1Z" fill="#120a16"/>
<g transform="translate(255,265.7) scale(1.0,1.0)"><clipPath id="bk2"><path d="M-70,-40 H70 V0 H56 A56,9.8 0 0 1 -56,0 H-70Z"/></clipPath><path d="M-57.5,0 Q-63,13 -70.3,36 Q-72,42 -65,45 C-40,55.5 40,55.5 65,45 Q72,42 70.3,36 Q63,13 57.5,0Z" fill="#04a1da" stroke="#0a1226" stroke-width="3.8" stroke-linejoin="round"/><line x1="-21" y1="-37" x2="-21" y2="50" stroke="#1a58bb" stroke-width="3.9" stroke-dasharray="0.1 8.15" stroke-linecap="round"/><line x1="22.2" y1="-37" x2="22.2" y2="50" stroke="#1a58bb" stroke-width="3.9" stroke-dasharray="0.1 8.15" stroke-linecap="round"/><text x="-55.5" y="34.6" font-size="15.5" font-weight="bold" fill="#0a2758" stroke="#0a2758" stroke-width="1.0" textLength="7.4" lengthAdjust="spacingAndGlyphs">1</text><line x1="-49.1" y1="41.4" x2="-41.7" y2="24" stroke="#0a2758" stroke-width="2.5"/><text x="-42.9" y="41.4" font-size="15.5" font-weight="bold" fill="#0a2758" stroke="#0a2758" stroke-width="1.0" textLength="9.4" lengthAdjust="spacingAndGlyphs">3</text><text x="-12.5" y="34.6" font-size="15.5" font-weight="bold" fill="#0a2758" stroke="#0a2758" stroke-width="1.0" textLength="7.4" lengthAdjust="spacingAndGlyphs">1</text><line x1="-6.1" y1="41.4" x2="1.2999999999999998" y2="24" stroke="#0a2758" stroke-width="2.5"/><text x="0.10000000000000009" y="41.4" font-size="15.5" font-weight="bold" fill="#0a2758" stroke="#0a2758" stroke-width="1.0" textLength="9.4" lengthAdjust="spacingAndGlyphs">3</text><text x="31.200000000000003" y="34.6" font-size="15.5" font-weight="bold" fill="#0a2758" stroke="#0a2758" stroke-width="1.0" textLength="7.4" lengthAdjust="spacingAndGlyphs">1</text><line x1="37.6" y1="41.4" x2="45.0" y2="24" stroke="#0a2758" stroke-width="2.5"/><text x="43.800000000000004" y="41.4" font-size="15.5" font-weight="bold" fill="#0a2758" stroke="#0a2758" stroke-width="1.0" textLength="9.4" lengthAdjust="spacingAndGlyphs">3</text><path d="M-57.5,0 A57.5,7.5 0 0 1 57.5,0" fill="none" stroke="#0a1226" stroke-width="3.8"/><ellipse cx="0" cy="0" rx="56" ry="7" fill="#04a1da" stroke="none"/><g clip-path="url(#bk2)"><path d="M-50,1 C-50,-4 -46,-7 -39,-11 C-26,-16.5 26,-16.5 39,-11 C46,-7 50,-4 50,1 C30,13.5 -30,13.5 -50,1Z" fill="#0a1226"/><path d="M-40.6,-7.7 Q-40.9,-10.5 -37.8,-11.1 L-33.6,-12.0 Q-30.5,-12.7 -30.2,-9.7 L-29.8,-5.8 Q-29.5,-2.8 -32.6,-2.3 L-36.7,-1.6 Q-39.8,-1.1 -40.1,-3.9 Z" fill="#fff" stroke="#0a1226" stroke-width="1.7" stroke-linejoin="round"/><path d="M-29.2,-8.4 Q-30.7,-10.9 -27.6,-12.2 L-23.5,-14.0 Q-20.4,-15.3 -19.1,-12.8 L-17.3,-9.5 Q-15.9,-7.0 -18.9,-5.6 L-22.9,-3.8 Q-25.9,-2.5 -27.3,-5.0 Z" fill="#fff" stroke="#0a1226" stroke-width="1.7" stroke-linejoin="round"/><path d="M-16.1,-13.7 Q-15.6,-16.4 -12.1,-15.3 L-7.4,-13.9 Q-3.9,-12.8 -4.7,-9.9 L-5.9,-6.0 Q-6.8,-3.1 -9.9,-4.4 L-14.1,-6.1 Q-17.2,-7.3 -16.7,-10.1 Z" fill="#fff" stroke="#0a1226" stroke-width="1.7" stroke-linejoin="round"/><path d="M-6.1,-10.8 Q-6.3,-13.6 -3.1,-14.0 L1.2,-14.4 Q4.3,-14.8 4.7,-11.9 L5.2,-8.0 Q5.5,-5.1 2.2,-4.8 L-2.3,-4.4 Q-5.6,-4.1 -5.8,-6.9 Z" fill="#fff" stroke="#0a1226" stroke-width="1.7" stroke-linejoin="round"/><path d="M7.5,-12.9 Q8.0,-15.9 11.2,-15.0 L15.4,-13.9 Q18.5,-13.1 17.6,-10.0 L16.4,-6.0 Q15.5,-2.9 12.7,-3.8 L8.9,-5.0 Q6.1,-5.9 6.7,-8.9 Z" fill="#fff" stroke="#0a1226" stroke-width="1.7" stroke-linejoin="round"/><path d="M19.9,-13.1 Q21.7,-15.2 24.1,-13.5 L27.3,-11.3 Q29.6,-9.6 28.0,-7.2 L25.8,-4.1 Q24.1,-1.7 21.6,-3.7 L18.3,-6.4 Q15.9,-8.4 17.6,-10.5 Z" fill="#fff" stroke="#0a1226" stroke-width="1.7" stroke-linejoin="round"/><path d="M30.9,-12.1 Q32.1,-14.6 35.1,-13.0 L39.2,-10.8 Q42.2,-9.1 40.8,-6.7 L38.9,-3.6 Q37.5,-1.2 34.7,-2.7 L30.9,-4.7 Q28.1,-6.1 29.3,-8.7 Z" fill="#fff" stroke="#0a1226" stroke-width="1.7" stroke-linejoin="round"/><path d="M-47.5,-6.2 Q-46.1,-8.9 -43.3,-7.4 L-39.5,-5.3 Q-36.6,-3.7 -38.0,-1.1 L-40.0,2.5 Q-41.4,5.2 -44.2,3.7 L-47.9,1.6 Q-50.7,0.0 -49.3,-2.6 Z" fill="#fff" stroke="#0a1226" stroke-width="1.7" stroke-linejoin="round"/><path d="M-35.5,-4.0 Q-35.7,-6.7 -32.5,-6.9 L-28.2,-7.1 Q-25.0,-7.3 -24.9,-4.5 L-24.8,-0.9 Q-24.8,1.8 -27.9,2.0 L-32.1,2.2 Q-35.2,2.4 -35.4,-0.3 Z" fill="#fff" stroke="#0a1226" stroke-width="1.7" stroke-linejoin="round"/><path d="M-23.8,-0.5 Q-25.5,-2.9 -22.8,-5.0 L-19.2,-7.8 Q-16.5,-9.9 -15.1,-7.5 L-13.3,-4.2 Q-11.9,-1.8 -14.3,0.2 L-17.5,3.0 Q-19.9,5.0 -21.5,2.6 Z" fill="#fff" stroke="#0a1226" stroke-width="1.7" stroke-linejoin="round"/><path d="M-11.1,-5.4 Q-10.9,-8.1 -7.8,-7.7 L-3.8,-7.1 Q-0.7,-6.7 -1.1,-3.9 L-1.7,-0.2 Q-2.2,2.5 -5.0,2.1 L-8.8,1.5 Q-11.7,1.1 -11.5,-1.7 Z" fill="#fff" stroke="#0a1226" stroke-width="1.7" stroke-linejoin="round"/><path d="M0.8,-2.8 Q0.1,-5.4 3.2,-6.6 L7.3,-8.1 Q10.4,-9.2 11.2,-6.8 L12.3,-3.6 Q13.1,-1.2 10.0,0.1 L5.8,1.9 Q2.6,3.2 1.9,0.6 Z" fill="#fff" stroke="#0a1226" stroke-width="1.7" stroke-linejoin="round"/><path d="M13.2,-3.7 Q12.7,-6.4 15.7,-7.2 L19.7,-8.3 Q22.7,-9.1 23.4,-6.1 L24.4,-2.1 Q25.1,0.9 21.9,1.5 L17.5,2.2 Q14.3,2.7 13.8,-0.1 Z" fill="#fff" stroke="#0a1226" stroke-width="1.7" stroke-linejoin="round"/><path d="M25.6,-4.4 Q26.3,-7.0 29.5,-6.3 L33.8,-5.5 Q37.1,-4.8 36.4,-2.2 L35.4,1.2 Q34.7,3.8 31.5,3.1 L27.3,2.3 Q24.1,1.6 24.8,-1.0 Z" fill="#fff" stroke="#0a1226" stroke-width="1.7" stroke-linejoin="round"/><path d="M37.6,0.9 Q35.7,-1.4 38.5,-4.0 L42.2,-7.4 Q45.0,-9.9 46.8,-7.3 L49.3,-3.7 Q51.1,-1.0 48.4,1.1 L44.9,4.0 Q42.2,6.2 40.3,3.9 Z" fill="#fff" stroke="#0a1226" stroke-width="1.7" stroke-linejoin="round"/><path d="M-42.5,-0.6 Q-43.0,-3.3 -39.8,-4.0 L-35.6,-4.8 Q-32.5,-5.4 -31.9,-2.9 L-31.1,0.4 Q-30.4,2.9 -33.7,3.7 L-38.1,4.8 Q-41.4,5.6 -41.9,2.9 Z" fill="#fff" stroke="#0a1226" stroke-width="1.7" stroke-linejoin="round"/><path d="M-29.4,5.1 Q-31.1,3.0 -28.5,1.0 L-25.1,-1.6 Q-22.5,-3.6 -20.7,-1.6 L-18.2,1.1 Q-16.4,3.1 -19.1,5.1 L-22.8,7.9 Q-25.5,9.9 -27.2,7.8 Z" fill="#fff" stroke="#0a1226" stroke-width="1.7" stroke-linejoin="round"/><path d="M-15.9,0.9 Q-14.7,-1.5 -12.0,-0.4 L-8.2,1.2 Q-5.5,2.4 -6.3,5.2 L-7.5,8.9 Q-8.3,11.7 -11.4,10.1 L-15.4,8.1 Q-18.5,6.5 -17.4,4.1 Z" fill="#fff" stroke="#0a1226" stroke-width="1.7" stroke-linejoin="round"/><path d="M-5.0,7.5 Q-6.6,5.5 -4.2,3.6 L-1.0,1.1 Q1.5,-0.9 2.9,1.4 L4.8,4.5 Q6.3,6.7 4.0,8.4 L1.1,10.6 Q-1.1,12.2 -2.8,10.2 Z" fill="#fff" stroke="#0a1226" stroke-width="1.7" stroke-linejoin="round"/><path d="M8.3,1.9 Q9.6,-0.5 12.2,0.7 L15.6,2.4 Q18.2,3.7 17.0,6.2 L15.3,9.6 Q14.0,12.2 11.4,10.7 L8.0,8.9 Q5.4,7.5 6.7,5.1 Z" fill="#fff" stroke="#0a1226" stroke-width="1.7" stroke-linejoin="round"/><path d="M19.8,0.2 Q20.7,-2.3 23.7,-1.5 L27.6,-0.5 Q30.6,0.3 29.7,3.0 L28.4,6.6 Q27.5,9.3 24.5,8.3 L20.6,6.9 Q17.6,5.8 18.5,3.4 Z" fill="#fff" stroke="#0a1226" stroke-width="1.7" stroke-linejoin="round"/><path d="M32.2,-3.0 Q33.1,-5.9 36.1,-5.1 L40.2,-4.2 Q43.3,-3.4 42.3,-0.6 L41.0,3.1 Q40.0,5.9 37.1,5.2 L33.2,4.3 Q30.3,3.6 31.2,0.8 Z" fill="#fff" stroke="#0a1226" stroke-width="1.7" stroke-linejoin="round"/></g><path d="M-57.5,0 A57.5,11.5 0 0 0 57.5,0" fill="none" stroke="#0a1226" stroke-width="3.8" stroke-linecap="round"/></g>
<g stroke="#0a2758" stroke-width="1.9" fill="none" stroke-linecap="round"><circle cx="158.2" cy="613.9" r="9"/><line x1="155.4" y1="601.9" x2="153.2" y2="592.2"/><line x1="159.7" y1="601.7" x2="160.3" y2="597.0"/><line x1="163.8" y1="602.9" x2="168.3" y2="594.0"/><line x1="167.2" y1="605.5" x2="170.6" y2="602.3"/><line x1="169.5" y1="609.1" x2="178.7" y2="605.2"/><line x1="170.5" y1="613.3" x2="175.2" y2="613.0"/><line x1="170.0" y1="617.5" x2="179.5" y2="620.4"/><line x1="168.0" y1="621.3" x2="171.8" y2="624.1"/><line x1="164.9" y1="624.2" x2="170.3" y2="632.6"/><line x1="161.0" y1="625.9" x2="162.0" y2="630.5"/><line x1="156.7" y1="626.1" x2="155.5" y2="636.0"/><line x1="152.6" y1="624.9" x2="150.5" y2="629.0"/><line x1="149.2" y1="622.3" x2="141.9" y2="629.1"/><line x1="146.9" y1="618.7" x2="142.6" y2="620.5"/><line x1="145.9" y1="614.5" x2="135.9" y2="615.1"/><line x1="146.4" y1="610.3" x2="141.9" y2="608.9"/><line x1="148.4" y1="606.5" x2="140.4" y2="600.5"/><line x1="151.5" y1="603.6" x2="148.9" y2="599.6"/></g>
<path transform="translate(0,351.4)" d="M359.3,243.1 A18.04,18.04 0 1 0 359.3,278 A19.5,19.5 0 0 1 359.3,243.1Z" fill="#120a16"/>
<g transform="translate(255,616.9) scale(1.0,1.0)"><clipPath id="bk3"><path d="M-70,-40 H70 V0 H56 A56,9.8 0 0 1 -56,0 H-70Z"/></clipPath><path d="M-57.5,0 Q-63,13 -70.3,36 Q-72,42 -65,45 C-40,55.5 40,55.5 65,45 Q72,42 70.3,36 Q63,13 57.5,0Z" fill="#04a1da" stroke="#0a1226" stroke-width="3.8" stroke-linejoin="round"/><line x1="0.8" y1="-37" x2="0.8" y2="50" stroke="#1a58bb" stroke-width="3.9" stroke-dasharray="0.1 8.15" stroke-linecap="round"/><text x="-38.9" y="34.6" font-size="15.5" font-weight="bold" fill="#0a2758" stroke="#0a2758" stroke-width="1.0" textLength="7.4" lengthAdjust="spacingAndGlyphs">1</text><line x1="-32.5" y1="41.4" x2="-25.099999999999998" y2="24" stroke="#0a2758" stroke-width="2.5"/><text x="-26.299999999999997" y="41.4" font-size="15.5" font-weight="bold" fill="#0a2758" stroke="#0a2758" stroke-width="1.0" textLength="9.4" lengthAdjust="spacingAndGlyphs">2</text><text x="17.7" y="34.6" font-size="15.5" font-weight="bold" fill="#0a2758" stroke="#0a2758" stroke-width="1.0" textLength="7.4" lengthAdjust="spacingAndGlyphs">1</text><line x1="24.1" y1="41.4" x2="31.5" y2="24" stroke="#0a2758" stroke-width="2.5"/><text x="30.3" y="41.4" font-size="15.5" font-weight="bold" fill="#0a2758" stroke="#0a2758" stroke-width="1.0" textLength="9.4" lengthAdjust="spacingAndGlyphs">2</text><path d="M-57.5,0 A57.5,7.5 0 0 1 57.5,0" fill="none" stroke="#0a1226" stroke-width="3.8"/><ellipse cx="0" cy="0" rx="56" ry="7" fill="#04a1da" stroke="none"/><g clip-path="url(#bk3)"><path d="M-50,1 C-50,-4 -46,-7 -39,-11 C-26,-16.5 26,-16.5 39,-11 C46,-7 50,-4 50,1 C30,13.5 -30,13.5 -50,1Z" fill="#0a1226"/><path d="M-39.6,-10.8 Q-38.8,-13.5 -35.4,-12.4 L-30.9,-10.9 Q-27.5,-9.7 -28.7,-6.7 L-30.3,-2.8 Q-31.6,0.2 -34.5,-1.2 L-38.5,-3.2 Q-41.4,-4.6 -40.6,-7.3 Z" fill="#fff" stroke="#0a1226" stroke-width="1.7" stroke-linejoin="round"/><path d="M-28.3,-11.6 Q-27.9,-14.3 -24.9,-13.8 L-21.0,-13.0 Q-18.0,-12.5 -18.3,-10.0 L-18.6,-6.7 Q-18.9,-4.2 -22.0,-4.5 L-26.1,-5.0 Q-29.2,-5.3 -28.8,-8.0 Z" fill="#fff" stroke="#0a1226" stroke-width="1.7" stroke-linejoin="round"/><path d="M-18.3,-8.8 Q-19.5,-11.6 -16.4,-13.0 L-12.3,-14.9 Q-9.2,-16.3 -8.2,-13.6 L-6.8,-10.0 Q-5.7,-7.2 -8.7,-5.7 L-12.6,-3.8 Q-15.6,-2.3 -16.8,-5.1 Z" fill="#fff" stroke="#0a1226" stroke-width="1.7" stroke-linejoin="round"/><path d="M-4.3,-9.9 Q-5.0,-12.3 -2.2,-13.3 L1.5,-14.6 Q4.2,-15.6 4.9,-12.8 L5.8,-9.2 Q6.5,-6.5 3.7,-5.8 L-0.1,-4.9 Q-2.9,-4.2 -3.5,-6.6 Z" fill="#fff" stroke="#0a1226" stroke-width="1.7" stroke-linejoin="round"/><path d="M6.7,-11.0 Q6.2,-14.0 9.0,-14.6 L12.6,-15.5 Q15.4,-16.1 16.4,-13.5 L17.8,-10.0 Q18.8,-7.3 15.5,-6.3 L11.2,-5.0 Q7.9,-4.0 7.4,-7.0 Z" fill="#fff" stroke="#0a1226" stroke-width="1.7" stroke-linejoin="round"/><path d="M18.3,-8.5 Q16.5,-11.2 19.0,-13.1 L22.2,-15.6 Q24.7,-17.5 26.4,-14.8 L28.6,-11.3 Q30.3,-8.6 27.9,-6.7 L24.8,-4.2 Q22.5,-2.3 20.7,-5.0 Z" fill="#fff" stroke="#0a1226" stroke-width="1.7" stroke-linejoin="round"/><path d="M29.3,-10.9 Q30.3,-13.2 33.5,-12.0 L37.9,-10.3 Q41.1,-9.1 40.3,-6.6 L39.2,-3.2 Q38.3,-0.7 34.9,-2.1 L30.3,-4.1 Q26.9,-5.5 27.9,-7.8 Z" fill="#fff" stroke="#0a1226" stroke-width="1.7" stroke-linejoin="round"/><path d="M-48.9,-1.3 Q-50.2,-3.8 -47.4,-4.8 L-43.7,-6.1 Q-40.9,-7.1 -39.5,-4.9 L-37.7,-2.0 Q-36.3,0.1 -39.2,1.4 L-43.0,3.1 Q-45.9,4.4 -47.2,2.0 Z" fill="#fff" stroke="#0a1226" stroke-width="1.7" stroke-linejoin="round"/><path d="M-36.5,-2.7 Q-36.6,-5.2 -33.3,-5.7 L-28.9,-6.3 Q-25.6,-6.8 -25.6,-3.9 L-25.5,-0.1 Q-25.5,2.7 -28.7,2.9 L-32.9,3.1 Q-36.1,3.3 -36.3,0.7 Z" fill="#fff" stroke="#0a1226" stroke-width="1.7" stroke-linejoin="round"/><path d="M-23.0,-4.7 Q-23.2,-7.7 -20.1,-8.1 L-15.9,-8.7 Q-12.8,-9.1 -12.5,-6.1 L-12.2,-2.0 Q-11.9,1.1 -15.1,1.5 L-19.3,2.0 Q-22.5,2.4 -22.7,-0.6 Z" fill="#fff" stroke="#0a1226" stroke-width="1.7" stroke-linejoin="round"/><path d="M-11.8,-4.6 Q-12.5,-7.6 -9.2,-7.9 L-4.9,-8.3 Q-1.6,-8.6 -1.4,-5.9 L-1.0,-2.4 Q-0.8,0.2 -3.6,0.8 L-7.4,1.7 Q-10.2,2.3 -10.9,-0.7 Z" fill="#fff" stroke="#0a1226" stroke-width="1.7" stroke-linejoin="round"/><path d="M2.2,-7.3 Q3.4,-10.1 6.5,-8.8 L10.6,-7.1 Q13.6,-5.8 12.5,-3.0 L10.9,0.6 Q9.7,3.3 6.6,2.1 L2.4,0.5 Q-0.7,-0.8 0.6,-3.6 Z" fill="#fff" stroke="#0a1226" stroke-width="1.7" stroke-linejoin="round"/><path d="M13.0,-4.8 Q13.6,-7.2 16.9,-6.6 L21.2,-5.8 Q24.5,-5.2 24.0,-2.5 L23.3,1.0 Q22.8,3.6 19.5,2.8 L14.9,1.7 Q11.6,0.9 12.2,-1.6 Z" fill="#fff" stroke="#0a1226" stroke-width="1.7" stroke-linejoin="round"/><path d="M27.0,-6.0 Q28.1,-8.9 31.3,-7.5 L35.5,-5.6 Q38.6,-4.1 37.1,-1.4 L35.0,2.3 Q33.4,5.0 30.7,3.8 L27.0,2.1 Q24.3,0.9 25.4,-2.0 Z" fill="#fff" stroke="#0a1226" stroke-width="1.7" stroke-linejoin="round"/><path d="M39.2,-4.7 Q40.2,-7.6 43.3,-6.7 L47.4,-5.6 Q50.4,-4.7 49.6,-1.8 L48.4,2.1 Q47.6,5.0 44.3,4.1 L40.0,2.9 Q36.7,2.1 37.8,-0.8 Z" fill="#fff" stroke="#0a1226" stroke-width="1.7" stroke-linejoin="round"/><path d="M-42.0,-0.4 Q-43.3,-2.9 -40.5,-4.1 L-36.6,-5.7 Q-33.7,-6.9 -32.6,-4.6 L-31.1,-1.4 Q-29.9,1.0 -32.6,2.3 L-36.2,4.1 Q-38.8,5.4 -40.2,2.9 Z" fill="#fff" stroke="#0a1226" stroke-width="1.7" stroke-linejoin="round"/><path d="M-30.2,2.7 Q-31.4,0.2 -28.6,-0.9 L-24.9,-2.4 Q-22.2,-3.5 -21.0,-1.3 L-19.4,1.8 Q-18.3,4.0 -21.0,5.4 L-24.8,7.3 Q-27.5,8.6 -28.7,6.1 Z" fill="#fff" stroke="#0a1226" stroke-width="1.7" stroke-linejoin="round"/><path d="M-16.7,0.6 Q-15.5,-1.5 -12.6,-0.2 L-8.7,1.6 Q-5.8,3.0 -7.1,5.4 L-8.7,8.7 Q-9.9,11.2 -12.8,9.6 L-16.6,7.4 Q-19.5,5.8 -18.3,3.6 Z" fill="#fff" stroke="#0a1226" stroke-width="1.7" stroke-linejoin="round"/><path d="M-4.8,4.3 Q-5.5,1.5 -2.3,1.0 L2.0,0.4 Q5.2,-0.1 5.5,3.0 L5.9,7.0 Q6.2,10.1 3.4,10.3 L-0.3,10.6 Q-3.1,10.9 -3.8,8.0 Z" fill="#fff" stroke="#0a1226" stroke-width="1.7" stroke-linejoin="round"/><path d="M6.8,6.2 Q5.5,3.4 8.2,1.9 L11.9,-0.0 Q14.6,-1.5 16.2,0.9 L18.4,4.1 Q20.1,6.4 17.0,8.4 L12.9,10.9 Q9.8,12.8 8.5,10.0 Z" fill="#fff" stroke="#0a1226" stroke-width="1.7" stroke-linejoin="round"/><path d="M22.2,-2.3 Q24.1,-4.6 26.4,-2.4 L29.4,0.4 Q31.7,2.6 30.1,4.6 L28.0,7.3 Q26.3,9.3 23.7,7.4 L20.3,4.8 Q17.7,2.9 19.6,0.7 Z" fill="#fff" stroke="#0a1226" stroke-width="1.7" stroke-linejoin="round"/><path d="M33.2,-3.9 Q34.8,-6.4 37.4,-4.8 L40.8,-2.8 Q43.4,-1.2 42.1,1.0 L40.3,4.1 Q39.0,6.4 36.2,5.1 L32.5,3.3 Q29.7,2.0 31.2,-0.5 Z" fill="#fff" stroke="#0a1226" stroke-width="1.7" stroke-linejoin="round"/></g><path d="M-57.5,0 A57.5,11.5 0 0 0 57.5,0" fill="none" stroke="#0a1226" stroke-width="3.8" stroke-linecap="round"/></g>
<g transform="translate(787.2,864.2) scale(1.05,1.02)"><clipPath id="bk4"><path d="M-70,-40 H70 V0 H56 A56,9.8 0 0 1 -56,0 H-70Z"/></clipPath><path d="M-57.5,0 Q-63,13 -70.3,36 Q-72,42 -65,45 C-40,55.5 40,55.5 65,45 Q72,42 70.3,36 Q63,13 57.5,0Z" fill="#fff" stroke="#0a0a0a" stroke-width="3.6" stroke-linejoin="round"/><path d="M-57.5,0 A57.5,7.5 0 0 1 57.5,0" fill="none" stroke="#0a0a0a" stroke-width="3.6"/><ellipse cx="0" cy="0" rx="56" ry="7" fill="#fff" stroke="none"/><g clip-path="url(#bk4)"><path d="M-50,1 C-50,-4 -46,-7 -39,-11 C-26,-16.5 26,-16.5 39,-11 C46,-7 50,-4 50,1 C30,13.5 -30,13.5 -50,1Z" fill="#0a0a0a"/><path d="M-39.6,-10.3 Q-39.1,-12.9 -36.2,-12.3 L-32.4,-11.5 Q-29.5,-10.8 -30.1,-8.4 L-30.8,-5.1 Q-31.4,-2.6 -34.1,-3.1 L-37.9,-3.7 Q-40.7,-4.2 -40.2,-6.8 Z" fill="#fff" stroke="#0a0a0a" stroke-width="1.7" stroke-linejoin="round"/><path d="M-28.5,-9.5 Q-29.8,-12.0 -26.5,-13.2 L-22.1,-14.8 Q-18.9,-16.0 -17.9,-13.4 L-16.5,-10.0 Q-15.6,-7.4 -18.6,-6.2 L-22.6,-4.7 Q-25.7,-3.5 -26.9,-6.0 Z" fill="#fff" stroke="#0a0a0a" stroke-width="1.7" stroke-linejoin="round"/><path d="M-17.6,-9.1 Q-18.8,-11.7 -16.0,-12.8 L-12.3,-14.3 Q-9.5,-15.5 -8.2,-13.0 L-6.6,-9.6 Q-5.3,-7.1 -8.1,-5.9 L-11.9,-4.3 Q-14.8,-3.1 -16.0,-5.7 Z" fill="#fff" stroke="#0a0a0a" stroke-width="1.7" stroke-linejoin="round"/><path d="M-5.7,-10.9 Q-6.2,-13.7 -3.1,-14.7 L1.0,-16.0 Q4.0,-17.0 4.9,-14.2 L6.1,-10.4 Q7.0,-7.6 3.5,-6.6 L-1.1,-5.4 Q-4.6,-4.4 -5.1,-7.2 Z" fill="#fff" stroke="#0a0a0a" stroke-width="1.7" stroke-linejoin="round"/><path d="M5.8,-8.8 Q4.4,-11.2 7.3,-12.8 L11.2,-14.8 Q14.1,-16.4 15.3,-13.9 L17.0,-10.4 Q18.2,-7.9 15.4,-6.5 L11.6,-4.5 Q8.8,-3.1 7.5,-5.5 Z" fill="#fff" stroke="#0a0a0a" stroke-width="1.7" stroke-linejoin="round"/><path d="M20.5,-13.0 Q22.4,-15.4 24.9,-13.7 L28.3,-11.4 Q30.9,-9.7 29.2,-7.2 L27.0,-3.9 Q25.3,-1.5 22.5,-3.2 L18.9,-5.6 Q16.1,-7.4 18.0,-9.8 Z" fill="#fff" stroke="#0a0a0a" stroke-width="1.7" stroke-linejoin="round"/><path d="M28.9,-6.5 Q27.6,-8.7 30.3,-10.1 L33.9,-12.1 Q36.5,-13.5 37.9,-11.4 L39.6,-8.5 Q40.9,-6.4 38.2,-4.9 L34.5,-2.8 Q31.8,-1.3 30.5,-3.5 Z" fill="#fff" stroke="#0a0a0a" stroke-width="1.7" stroke-linejoin="round"/><path d="M-45.6,-5.2 Q-44.3,-7.8 -41.6,-6.0 L-38.0,-3.6 Q-35.3,-1.8 -36.8,0.3 L-38.8,3.1 Q-40.4,5.2 -42.9,3.9 L-46.3,2.2 Q-48.9,0.8 -47.5,-1.7 Z" fill="#fff" stroke="#0a0a0a" stroke-width="1.7" stroke-linejoin="round"/><path d="M-35.9,-0.8 Q-38.0,-3.0 -35.4,-5.0 L-31.9,-7.6 Q-29.3,-9.6 -27.5,-7.4 L-25.1,-4.4 Q-23.3,-2.2 -25.6,-0.2 L-28.6,2.5 Q-30.9,4.5 -33.0,2.2 Z" fill="#fff" stroke="#0a0a0a" stroke-width="1.7" stroke-linejoin="round"/><path d="M-21.5,-6.1 Q-20.4,-8.5 -17.9,-7.2 L-14.5,-5.4 Q-12.0,-4.1 -13.0,-1.8 L-14.3,1.4 Q-15.2,3.7 -18.0,2.5 L-21.6,0.8 Q-24.3,-0.4 -23.1,-2.8 Z" fill="#fff" stroke="#0a0a0a" stroke-width="1.7" stroke-linejoin="round"/><path d="M-12.5,-2.1 Q-14.2,-4.3 -11.5,-5.8 L-7.8,-7.9 Q-5.1,-9.5 -3.7,-7.4 L-1.8,-4.6 Q-0.4,-2.5 -2.8,-0.8 L-6.0,1.4 Q-8.4,3.1 -10.2,0.9 Z" fill="#fff" stroke="#0a0a0a" stroke-width="1.7" stroke-linejoin="round"/><path d="M2.0,-4.6 Q2.0,-7.1 5.1,-7.1 L9.2,-7.2 Q12.3,-7.2 12.0,-4.5 L11.7,-0.9 Q11.5,1.9 8.6,1.7 L4.8,1.4 Q2.0,1.2 2.0,-1.3 Z" fill="#fff" stroke="#0a0a0a" stroke-width="1.7" stroke-linejoin="round"/><path d="M12.6,-5.4 Q12.7,-8.2 16.2,-8.1 L20.7,-7.8 Q24.2,-7.7 24.2,-4.8 L24.3,-1.0 Q24.4,1.9 20.7,1.7 L15.9,1.4 Q12.2,1.2 12.4,-1.7 Z" fill="#fff" stroke="#0a0a0a" stroke-width="1.7" stroke-linejoin="round"/><path d="M27.2,-7.0 Q28.8,-9.6 31.4,-7.4 L34.9,-4.5 Q37.4,-2.3 35.7,-0.1 L33.5,2.9 Q31.7,5.1 29.3,3.2 L26.0,0.7 Q23.5,-1.2 25.1,-3.7 Z" fill="#fff" stroke="#0a0a0a" stroke-width="1.7" stroke-linejoin="round"/><path d="M39.5,-6.3 Q41.2,-9.0 43.7,-6.9 L47.0,-3.9 Q49.5,-1.7 47.8,0.5 L45.5,3.4 Q43.8,5.6 41.4,4.0 L38.1,1.8 Q35.6,0.2 37.3,-2.6 Z" fill="#fff" stroke="#0a0a0a" stroke-width="1.7" stroke-linejoin="round"/><path d="M-41.3,-1.3 Q-41.4,-4.4 -38.1,-4.5 L-33.8,-4.7 Q-30.5,-4.8 -30.5,-1.8 L-30.5,2.3 Q-30.4,5.3 -33.7,5.5 L-38.0,5.8 Q-41.2,6.0 -41.3,2.9 Z" fill="#fff" stroke="#0a0a0a" stroke-width="1.7" stroke-linejoin="round"/><path d="M-28.2,-1.8 Q-26.5,-4.0 -24.1,-1.9 L-20.9,0.9 Q-18.5,3.0 -20.3,5.3 L-22.5,8.2 Q-24.3,10.4 -26.6,8.3 L-29.7,5.5 Q-32.0,3.3 -30.4,1.1 Z" fill="#fff" stroke="#0a0a0a" stroke-width="1.7" stroke-linejoin="round"/><path d="M-16.3,3.3 Q-15.5,0.6 -12.4,1.0 L-8.2,1.7 Q-5.1,2.2 -5.9,5.1 L-7.0,9.0 Q-7.8,12.0 -10.9,11.3 L-14.9,10.3 Q-18.0,9.6 -17.2,6.9 Z" fill="#fff" stroke="#0a0a0a" stroke-width="1.7" stroke-linejoin="round"/><path d="M-4.9,5.5 Q-5.9,3.0 -3.0,1.9 L0.9,0.6 Q3.9,-0.4 4.9,1.9 L6.3,5.0 Q7.4,7.4 4.3,8.6 L0.3,10.1 Q-2.7,11.3 -3.7,8.8 Z" fill="#fff" stroke="#0a0a0a" stroke-width="1.7" stroke-linejoin="round"/><path d="M9.5,0.6 Q10.8,-1.7 13.5,0.1 L17.1,2.3 Q19.8,4.0 18.1,6.3 L15.8,9.3 Q14.1,11.6 11.7,9.9 L8.6,7.7 Q6.3,6.0 7.6,3.7 Z" fill="#fff" stroke="#0a0a0a" stroke-width="1.7" stroke-linejoin="round"/><path d="M19.2,2.9 Q18.4,0.3 21.7,-0.6 L26.0,-1.7 Q29.2,-2.6 29.8,0.2 L30.6,4.0 Q31.2,6.8 28.1,7.5 L24.0,8.4 Q21.0,9.1 20.2,6.4 Z" fill="#fff" stroke="#0a0a0a" stroke-width="1.7" stroke-linejoin="round"/><path d="M31.8,-1.1 Q31.6,-4.1 34.8,-4.3 L39.1,-4.6 Q42.4,-4.8 42.6,-1.8 L43.0,2.2 Q43.2,5.2 39.9,5.4 L35.5,5.7 Q32.2,6.0 32.0,2.9 Z" fill="#fff" stroke="#0a0a0a" stroke-width="1.7" stroke-linejoin="round"/></g><path d="M-57.5,0 A57.5,11.5 0 0 0 57.5,0" fill="none" stroke="#0a0a0a" stroke-width="3.6" stroke-linecap="round"/></g>
<polygon fill="#0d0508" stroke="#0d0508" stroke-width="1" stroke-linejoin="round" points="462.1,163.1 466.3,164.5 471.9,167.3 475.6,162.7 479.3,161.8 481.6,165.0 483.0,171.5 482.0,178.9 480.6,186.3 479.3,193.7 478.8,199.3 479.7,203.9 476.5,204.8 474.2,203.9 473.2,207.1 470.0,206.7 466.3,203.9 463.5,206.2 457.0,205.7 451.5,203.4 446.9,202.0 436.7,201.6 436.2,200.2 443.1,196.9 450.6,193.2 455.2,188.1 459.8,184.4 462.6,180.7 461.7,175.2 459.8,169.6 460.3,165.0"/>
<polygon fill="#0d0508" stroke="#0d0508" stroke-width="1.2" stroke-linejoin="round" points="422.5,510.0 425.0,505.8 430.8,504.2 437.5,505.0 441.7,508.3 445.0,513.3 451.7,512.5 453.3,510.8 451.7,505.8 451.7,499.2 454.2,493.3 458.3,490.8 462.5,492.1 465.0,495.8 466.7,498.3 471.7,497.5 474.2,494.2 479.2,492.9 484.2,495.0 486.2,500.8 485.8,509.2 484.2,513.3 482.5,517.5 479.2,518.3 475.8,521.7 472.5,528.3 470.0,535.0 467.5,541.7 466.7,548.3 467.5,555.0 470.8,557.5 470.0,559.2 463.3,559.2 462.1,555.0 461.2,546.7 458.3,545.0 456.7,548.3 458.3,555.8 459.2,559.2 451.7,559.2 450.0,555.8 450.8,550.0 449.2,545.0 441.7,544.2 437.5,545.0 435.8,549.2 437.5,555.0 441.7,556.7 440.8,558.8 433.3,558.8 430.8,553.3 430.8,547.5 427.9,546.7 426.7,551.7 429.2,556.7 430.8,558.3 423.3,559.2 421.7,555.0 421.7,546.7 421.2,535.0 421.2,522.5 421.7,514.2"/>
<path d="M871,876.8 H880.1 V866.3 H888.9 V876.8 H898.2 V886.2 H888.9 V896.1 H880.1 V886.2 H871Z" fill="#0a0a0a"/>
<g fill="#0a0a0a" stroke="none"><path d="M920.3,841.2 L943.6,841.6 L943.6,844.4 L933.3,843.7 L933.3,850 L930.7,850 L930.7,843.7 L920.3,844.4Z"/><rect x="930.7" y="838.8" width="2.6" height="4"/><path d="M909.9,855.3 H921.5 C925,852.5 928,849.4 932,849.4 C937,849.4 940,852 943,854 C948,857 953,861 955.9,867.6 C957.3,871 957.9,874 957.9,875.2 L958.6,875.2 V877.4 H944.2 V875.2 H944.9 C944.9,872 943.5,869.5 940.4,867.8 C937.5,866.8 935,868.4 932.6,868.4 C929.5,868.4 927.5,866.3 924.8,866.3 H909.9Z"/><path d="M926.8,898.1 H977.3 C977.3,908 972,917 967.6,920.7 H937.8 C932,917 926.8,908 926.8,898.1Z"/><rect x="935.8" y="922.6" width="32.4" height="2"/></g>
<path d="M946.4,877.4 L944.6,898 M956.4,877.4 L959,898" stroke="#222" stroke-width="1.1" fill="none"/>
<text x="166.0" y="895.4" font-size="25.0" font-weight="bold" fill="#0a0a0a" text-anchor="start" textLength="25.0" lengthAdjust="spacingAndGlyphs" stroke="#0a0a0a" stroke-width="1.7" stroke-linejoin="round" >ME</text>
<text x="198.4" y="895.4" font-size="25.0" font-weight="bold" fill="#0a0a0a" text-anchor="start" textLength="9.1" lengthAdjust="spacingAndGlyphs" stroke="#0a0a0a" stroke-width="1.7" stroke-linejoin="round" >=</text>
<text x="215.0" y="895.4" font-size="25.0" font-weight="bold" fill="#0a0a0a" text-anchor="start" textLength="43.1" lengthAdjust="spacingAndGlyphs" stroke="#0a0a0a" stroke-width="1.7" stroke-linejoin="round" >4068</text>
<text x="267.5" y="895.4" font-size="25.0" font-weight="bold" fill="#0a0a0a" text-anchor="start" textLength="73.2" lengthAdjust="spacingAndGlyphs" stroke="#0a0a0a" stroke-width="1.7" stroke-linejoin="round" >kcal/kg</text>
<text x="444.8" y="895.4" font-size="25.0" font-weight="bold" fill="#0a0a0a" text-anchor="start" textLength="8.7" lengthAdjust="spacingAndGlyphs" stroke="#0a0a0a" stroke-width="1.7" stroke-linejoin="round" >=</text>
<text x="461.90000000000003" y="895.4" font-size="25.0" font-weight="bold" fill="#0a0a0a" text-anchor="start" textLength="31.5" lengthAdjust="spacingAndGlyphs" stroke="#0a0a0a" stroke-width="1.7" stroke-linejoin="round" >240</text>
<text x="501.8" y="895.4" font-size="25.0" font-weight="bold" fill="#0a0a0a" text-anchor="start" textLength="18.8" lengthAdjust="spacingAndGlyphs" stroke="#0a0a0a" stroke-width="1.7" stroke-linejoin="round" >ml</text>
<text x="531.9" y="895.4" font-size="25.0" font-weight="bold" fill="#0a0a0a" text-anchor="start" textLength="21.7" lengthAdjust="spacingAndGlyphs" stroke="#0a0a0a" stroke-width="1.7" stroke-linejoin="round" >(≃</text>
<text x="565.0" y="895.4" font-size="25.0" font-weight="bold" fill="#0a0a0a" text-anchor="start" textLength="26.6" lengthAdjust="spacingAndGlyphs" stroke="#0a0a0a" stroke-width="1.7" stroke-linejoin="round" >105</text>
<text x="601.9" y="895.4" font-size="25.0" font-weight="bold" fill="#0a0a0a" text-anchor="start" textLength="18.8" lengthAdjust="spacingAndGlyphs" stroke="#0a0a0a" stroke-width="1.7" stroke-linejoin="round" >g)</text>
<defs><linearGradient id="rg" x1="0" x2="1"><stop offset="0" stop-color="#e52721"/><stop offset="0.775" stop-color="#e52721"/><stop offset="0.866" stop-color="#e52721" stop-opacity="0.55"/><stop offset="0.936" stop-color="#e52721" stop-opacity="0.16"/><stop offset="1" stop-color="#e52721" stop-opacity="0"/></linearGradient></defs>
<rect x="54" y="991.8" width="64.4" height="15.8" fill="#e52721"/>
<rect x="241.7" y="991.8" width="782" height="15.8" fill="url(#rg)"/>
<g fill="#e52721"><circle cx="136.8" cy="987.7" r="6.7"/><circle cx="158.2" cy="978.5" r="6.7"/><circle cx="180.6" cy="975.5" r="6.7"/><circle cx="203" cy="978.5" r="6.7"/><circle cx="224.4" cy="987.7" r="6.7"/><circle cx="145.3" cy="1001.9" r="6.2"/><circle cx="162.2" cy="994.8" r="6.2"/><circle cx="180.6" cy="992.4" r="6.2"/><circle cx="198.9" cy="994.8" r="6.2"/><circle cx="215.2" cy="1001.9" r="6.2"/><path d="M146.6,1014 Q180.6,993.6 214.6,1014 L211.5,1018.6 Q180.6,1001 149.7,1018.6Z"/><path d="M150.2,1020 Q180.6,1002.8 211,1020 L209,1023.2 Q180.6,1008.2 152.2,1023.2Z"/></g>
</svg>
</body></html>
